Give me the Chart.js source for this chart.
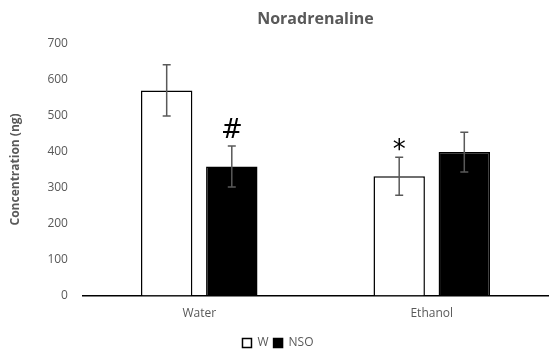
<!DOCTYPE html>
<html>
<head>
<meta charset="utf-8">
<script src="https://cdn.jsdelivr.net/npm/chart.js@4"></script>
<style>
  html, body { margin: 0; padding: 0; background: #fff; }
  #wrap { width: 550px; height: 350px; }
</style>
</head>
<body>
<div id="wrap"><canvas id="chart-nor"></canvas></div>
<script>
const categories = ['Water', 'Ethanol'];
const seriesNames = ['W', 'NSO'];
const wValues = [569, 331];
const nsoValues = [358, 398];
const wErrors = [71, 53];
const nsoErrors = [57, 55];
const wMarks = ['', '*'];
const nsoMarks = ['#', ''];
const yTicks = [0, 100, 200, 300, 400, 500, 600, 700];

const grey = '#595959';
const font = "'Open Sans', 'Liberation Sans', sans-serif";

// error bars + significance marks drawn from dataset values through the y scale
const errorBarPlugin = {
    id: 'errorBars',
    afterDatasetsDraw(chart) {
        const ctx = chart.ctx;
        const y = chart.scales.y;
        chart.data.datasets.forEach((ds, di) => {
            const meta = chart.getDatasetMeta(di);
            meta.data.forEach((bar, i) => {
                const v = ds.data[i], e = ds.errors[i];
                const yTop = y.getPixelForValue(v + e);
                const yBot = y.getPixelForValue(v - e);
                ctx.save();
                ctx.strokeStyle = grey;
                ctx.lineWidth = 1.5;
                ctx.beginPath();
                ctx.moveTo(bar.x, yTop); ctx.lineTo(bar.x, yBot);
                ctx.moveTo(bar.x - 4, yTop); ctx.lineTo(bar.x + 4, yTop);
                ctx.moveTo(bar.x - 4, yBot); ctx.lineTo(bar.x + 4, yBot);
                ctx.stroke();
                const mark = ds.marks[i];
                if (mark) {
                    ctx.fillStyle = '#000';
                    ctx.textAlign = 'center';
                    ctx.textBaseline = 'bottom';
                    ctx.font = "26px 'DejaVu Sans', sans-serif";
                    ctx.fillText(mark, bar.x, yTop + (mark === '*' ? 7 : -2));
                }
                ctx.restore();
            });
        });
    }
};

new Chart(document.getElementById('chart-nor').getContext('2d'), {
    type: 'bar',
    data: {
        labels: categories,
        datasets: [{
            label: seriesNames[0],
            data: wValues,
            errors: wErrors,
            marks: wMarks,
            backgroundColor: '#ffffff',
            borderColor: '#000000',
            borderWidth: 1.5,
            categoryPercentage: 0.56,
            barPercentage: 0.79
        }, {
            label: seriesNames[1],
            data: nsoValues,
            errors: nsoErrors,
            marks: nsoMarks,
            backgroundColor: '#000000',
            borderColor: '#000000',
            borderWidth: 1.5,
            categoryPercentage: 0.56,
            barPercentage: 0.79
        }]
    },
    options: {
        responsive: true,
        maintainAspectRatio: false,
        animation: false,
        layout: { padding: { left: 8, right: 2, top: 10, bottom: -9 } },
        plugins: {
            title: {
                display: true,
                fullSize: false,
                text: 'Noradrenaline',
                color: grey,
                font: { family: font, size: 16, weight: 'bold' },
                padding: { top: 0, bottom: 14 }
            },
            legend: {
                position: 'bottom',
                labels: {
                    color: grey,
                    font: { family: font, size: 12 },
                    boxWidth: 9,
                    boxHeight: 9,
                    padding: 5,
                    generateLabels(chart) {
                        return chart.data.datasets.map((ds, i) => ({
                            text: ds.label,
                            fillStyle: ds.backgroundColor,
                            strokeStyle: '#000',
                            lineWidth: 1.5,
                            fontColor: grey,
                            datasetIndex: i
                        }));
                    }
                }
            },
            tooltip: { enabled: false }
        },
        scales: {
            x: {
                grid: { display: false, drawTicks: false },
                border: { color: '#000', width: 1.5 },
                ticks: { color: grey, font: { family: font, size: 12 }, padding: 11 }
            },
            y: {
                min: 0,
                max: 700,
                afterBuildTicks(scale) { scale.ticks = yTicks.map(v => ({ value: v })); },
                grid: { display: false, drawTicks: false },
                border: { display: false },
                ticks: { color: grey, font: { family: font, size: 12 }, padding: 15 },
                title: {
                    display: true,
                    text: 'Concentration (ng)',
                    color: grey,
                    font: { family: font, size: 12, weight: 'bold' },
                    padding: { top: 0, bottom: 10 }
                }
            }
        }
    },
    plugins: [errorBarPlugin]
});
</script>
</body>
</html>
